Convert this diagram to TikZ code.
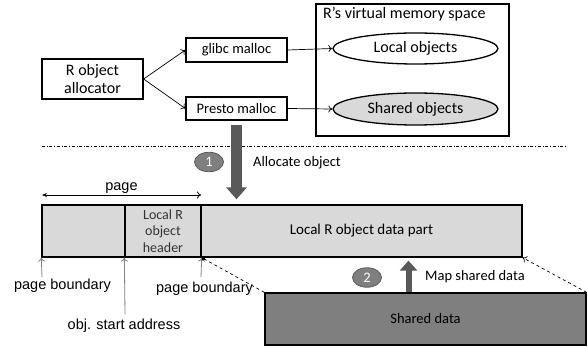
\documentclass[tikz,border=0pt]{standalone}
\usepackage{fontspec}
\setmainfont{Carlito}
\newfontfamily\arialfont{Liberation Sans}
\usetikzlibrary{arrows.meta,shapes.geometric}
\definecolor{lightfill}{HTML}{D9D9D9}
\definecolor{midfill}{HTML}{7F7F7F}
\definecolor{darkfill}{HTML}{595959}
\newcommand{\fsz}[1]{\fontsize{#1}{1.15\dimexpr#1pt\relax}\selectfont}
\tikzset{
  box/.style={draw,line width=1.3pt,inner sep=0pt,align=center},
  cell/.style={box,fill=lightfill,minimum height=52pt},
  blob/.style={ellipse,draw,line width=1.3pt,inner sep=0pt,
               minimum width=165pt,minimum height=31pt,font=\fsz{16}},
  stepmark/.style={ellipse,draw=darkfill,fill=midfill,line width=0.8pt,
               inner sep=0pt,minimum width=29pt,minimum height=19.5pt,
               text=white,font=\fsz{14.5}},
  thinarrow/.style={-{To[length=4pt,width=7pt]},line width=0.7pt},
  uparrow/.style={-{To[length=4pt,width=7pt]},line width=0.8pt,gray},
  lbl/.style={font=\arialfont\fsz{14.5},inner sep=0pt},
}
\begin{document}
\begin{tikzpicture}[x=1pt,y=-1pt]
    \useasboundingbox (0,0) rectangle (588,347);

        % alokatory
    \node[box,minimum width=101pt,minimum height=40pt,font=\fsz{16}]
         (alloc) at (92.5,79) {R object\\allocator};
    \node[box,minimum width=101pt,minimum height=24pt,font=\fsz{14.5}]
         (glibc) at (236.5,50) {glibc malloc};
    \node[box,minimum width=101pt,minimum height=23pt,font=\fsz{14.5}]
         (presto) at (236.5,108.5) {Presto malloc};

        % przestrzen pamieci R
    \node[box,minimum width=193pt,minimum height=132pt] (vms) at (412.5,70) {};
    \node[anchor=north west,inner sep=0pt,font=\fsz{16}]
         (vmstitle) at (323,7) {R’s virtual memory space};
    \node[blob] (local) at (415.5,48.5) {Local objects};
    \node[blob,fill=lightfill,minimum height=32pt] (sharedobj) at (415.5,109) {Shared objects};

    \draw[thinarrow] (alloc.east) -- (glibc.west);
    \draw[thinarrow] (alloc.east) -- (presto.west);
    \draw[thinarrow] (glibc.east) -- (local.west);
    \draw[thinarrow] (presto.east) -- (sharedobj.west);

    \coordinate (sepL) at (42,146);
    \coordinate (sepR) at (567,146);
    \draw[dash dot,line width=0.6pt] (sepL) -- (sepR);

        % pasek pamieci
    \node[cell,minimum width=83pt] (pad) at (83.5,231) {};
    \node[cell,minimum width=76pt,font=\fontsize{14}{16.5}\selectfont,text=black!80] (hdr) at (163,231)
         {Local R\\object\\header};
    \node[cell,minimum width=321pt,font=\fsz{15}] (data) at (361.5,231)
         {Local R object data part};

        % krok 1
    \coordinate (down) at ([yshift=-4pt]presto.south);
    \draw[darkfill,line width=11pt,-{Triangle[length=12pt,width=20pt]}]
         (down) -- ([yshift=5pt]down |- data.north);
    \node[stepmark] (one) at (209,162) {1};
    \node[anchor=west,inner sep=0pt,font=\fsz{14.5}] (alloctext) at (253,163) {Allocate object};

    \coordinate (pageL) at (42,195);
    \coordinate (pageR) at (201,195);
    \draw[{Stealth[length=5pt,width=4pt]}-{To[length=4pt,width=7pt]},line width=0.8pt]
         (pageL) -- node[above=1pt,inner sep=0pt,font=\arialfont\fsz{14.5}] (pagetext) {page} (pageR);

        % granice stron
    \node[lbl] (pb1) at (62.5,286) {page boundary};
    \node[lbl] (pb2) at (204.5,289) {page boundary};
    \node[lbl] (osa) at (124,326) {obj. start address};
    \coordinate (pb1top) at (42,277);
    \coordinate (pb2top) at (201,277);
    \coordinate (osatop) at (125,314);
    \draw[uparrow] (pb1top) -- (pad.south west);
    \draw[uparrow] (osatop) -- (hdr.south west);
    \draw[uparrow] (pb2top) -- (hdr.south east);

        % dane wspoldzielone
    \node[box,fill=midfill,minimum width=321pt,minimum height=52pt,font=\fsz{14.5}]
         (shared) at (425.5,319) {Shared data};
    \draw[dashed,line width=0.7pt,-{Circle[length=4pt]}] (shared.north west) -- (hdr.south east);
    \draw[dashed,line width=0.7pt,-{To[length=4pt,width=7pt]}] (shared.north east) -- (data.south east);

        % krok 2
    \node[stepmark] (two) at (367,277.5) {2};
    \coordinate (upfoot) at (408.5,292);
    \draw[darkfill,line width=6pt,-{Triangle[length=10pt,width=17pt]}]
         (upfoot) -- ([yshift=-3pt]upfoot |- data.south);
    \node[anchor=west,inner sep=0pt,font=\fsz{14.5}] (maptext) at (425,277) {Map shared data};
\end{tikzpicture}
\end{document}
